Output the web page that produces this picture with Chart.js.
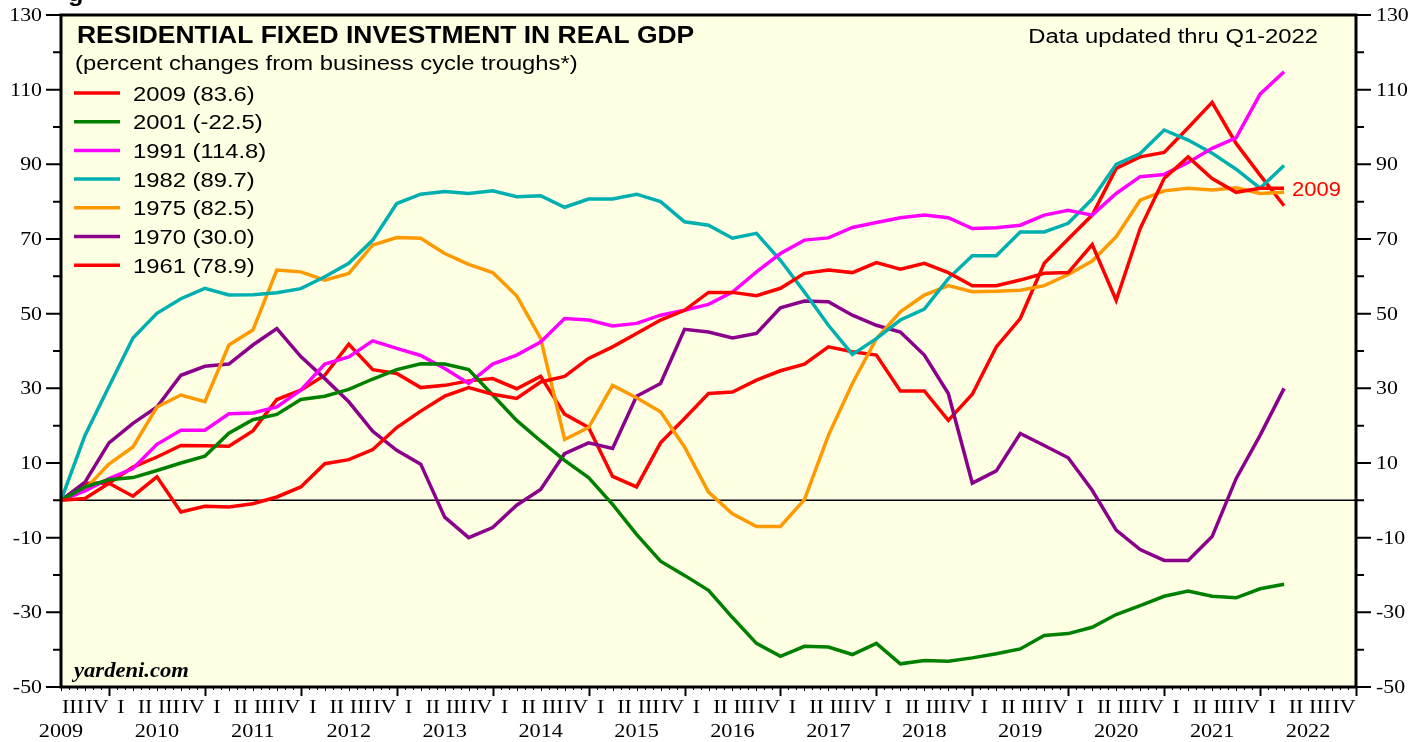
<!DOCTYPE html>
<html>
<head>
<meta charset="utf-8">
<title>Residential Fixed Investment in Real GDP</title>
<script src="https://cdn.jsdelivr.net/npm/chart.js@4.4.1/dist/chart.umd.min.js"></script>
<style>
  html, body { margin: 0; padding: 0; background: #fff; }
  #wrap { width: 1427px; height: 742px; position: relative; }
</style>
</head>
<body>
<div id="wrap"><canvas id="residentialChart"></canvas></div>
<script>
// business cycle troughs, in legend order
const cycles = ['2009', '2001', '1991', '1982', '1975', '1970', '1961'];
const lineColors = ['#ff0000', '#008000', '#ff00ff', '#00b0b0', '#ff9900', '#8b008b', '#ff0000'];

// percent change from trough, one value per quarter after the trough
const s2009 = [0, 0.5, 4.6, 1.1, 6.3, -3.1, -1.6, -1.8, -0.9, 0.9, 3.6, 9.8, 10.9, 13.6, 19.5, 23.9, 27.9, 30.2, 28.4, 27.3,
  31.7, 33.2, 38, 41.1, 44.7, 48.3, 50.9, 55.7, 55.7, 54.8, 56.8, 60.8, 61.7, 61, 63.7, 61.9, 63.5, 61, 57.5, 57.5,
  59, 60.8, 61, 68.5, 53.6, 72.8, 86.2, 92, 86.2, 82.5, 83.6, 83.6];
const s2001 = [0, 3.6, 5.5, 6.1, 8, 10, 11.8, 18, 21.6, 23, 27, 27.9, 29.7, 32.5, 35, 36.6, 36.5, 35, 28.2, 21.4,
  15.9, 10.7, 6.1, -1.1, -9.1, -16.3, -20.1, -24.1, -31.4, -38.3, -41.8, -39.1, -39.3, -41.3, -38.3, -43.8, -42.9, -43.1, -42.2, -41.1,
  -39.8, -36.2, -35.7, -34, -30.6, -28.2, -25.7, -24.3, -25.7, -26.1, -23.7, -22.5];
const s1991 = [0, 2.5, 5.8, 8.5, 15, 18.8, 18.8, 23.2, 23.4, 25, 29.5, 36.5, 38.4, 42.7, 40.7, 38.8, 35.3, 31.3, 36.5, 38.9,
  42.4, 48.7, 48.3, 46.7, 47.4, 49.6, 50.9, 52.5, 55.8, 61.2, 66.1, 69.7, 70.3, 73.1, 74.4, 75.7, 76.4, 75.7, 72.8, 73,
  73.7, 76.4, 77.7, 76.4, 82.2, 86.7, 87.3, 90.5, 94.3, 97.1, 108.8, 114.8];
const s1982 = [0, 17.4, 30.5, 43.5, 50.1, 54, 56.8, 55, 55.1, 55.6, 56.7, 59.9, 63.5, 69.7, 79.5, 82, 82.7, 82.2, 82.9, 81.3,
  81.6, 78.5, 80.7, 80.7, 82, 80, 74.6, 73.7, 70.2, 71.5, 64.3, 55.8, 46.9, 39.1, 43.3, 48.3, 51.2, 59.4, 65.5, 65.5,
  71.9, 71.9, 74.2, 80.7, 90, 92.9, 99.2, 96.5, 93, 88.7, 83.6, 89.7];
const s1975 = [0, 3, 9.7, 14.3, 25, 28.2, 26.4, 41.6, 45.6, 61.7, 61.2, 59, 60.8, 68.4, 70.4, 70.2, 66.1, 63.2, 61, 54.8,
  43.4, 16.3, 19.5, 30.8, 27.5, 23.7, 14.3, 2.2, -3.6, -7, -7, 0.2, 17.4, 31.3, 43.3, 50.5, 55, 57.5, 55.9, 56,
  56.3, 57.5, 60.5, 64.1, 70.6, 80.4, 82.9, 83.6, 83.1, 83.7, 82.2, 82.5];
const s1970 = [0, 4.9, 15.4, 20.6, 25, 33.5, 35.9, 36.5, 41.6, 46, 38.5, 32.6, 26.4, 18.5, 13.4, 9.7, -4.5, -10, -7.3, -1.3,
  2.9, 12.5, 15.4, 13.9, 27.9, 31.3, 45.8, 45.1, 43.5, 44.7, 51.6, 53.4, 53.2, 49.6, 46.9, 45.1, 38.9, 28.6, 4.6, 7.9,
  17.9, 14.7, 11.4, 2.7, -8, -13.2, -16.1, -16.1, -9.7, 5.8, 17.4, 30];
const s1961 = [0, 4.6, 4.6, 8.9, 11.6, 14.7, 14.6, 14.5, 18.6, 27, 29.5, 33.5, 41.8, 35, 34, 30.2, 30.8, 32, 32.6, 29.9,
  33.2, 23.1, 19.5, 6.4, 3.6, 15.4, 21.9, 28.6, 29, 32.2, 34.7, 36.5, 41.1, 39.8, 38.9, 29.3, 29.3, 21.4, 28.4, 41.1,
  48.7, 63.5, 70, 76.4, 88.9, 92, 93.2, 99.8, 106.6, 95.6, 87.1, 78.9];

// x axis: quarters from 2009 Q3 through 2022 Q4
const years = [2009, 2010, 2011, 2012, 2013, 2014, 2015, 2016, 2017, 2018, 2019, 2020, 2021, 2022];
const quarterNames = ['I', 'II', 'III', 'IV'];
const firstQuarter = 2; // 2009 starts with III
const yTicks = [-50, -30, -10, 10, 30, 50, 70, 90, 110, 130];

const seriesList = [s2009, s2001, s1991, s1982, s1975, s1970, s1961];
const totalQuarters = years.length * 4 - firstQuarter;

// 横に少し伸ばした文字を描く
function wideText(ctx, text, x, y, font, color, align, sx, baseline) {
    ctx.save();
    ctx.font = font;
    ctx.fillStyle = color;
    ctx.textBaseline = baseline || 'alphabetic';
    ctx.textAlign = 'left';
    const w = ctx.measureText(text).width * sx;
    let left = x;
    if (align === 'right') left = x - w;
    else if (align === 'center') left = x - w / 2;
    ctx.translate(left, y);
    ctx.scale(sx, 1);
    ctx.fillText(text, 0, 0);
    ctx.restore();
}

const serif = '19px "Liberation Serif"';

const framePlugin = {
    id: 'frame',
    beforeDraw(chart) {
        const { ctx, chartArea: a } = chart;
        ctx.save();
        ctx.fillStyle = '#ffffff';
        ctx.fillRect(0, 0, chart.width, chart.height);
        ctx.fillStyle = '#ffffe4';
        ctx.fillRect(a.left, a.top, a.right - a.left, a.bottom - a.top);
        // zero line
        const y0 = chart.scales.y.getPixelForValue(0);
        ctx.strokeStyle = '#000';
        ctx.lineWidth = 1.5;
        ctx.beginPath();
        ctx.moveTo(a.left, y0);
        ctx.lineTo(a.right, y0);
        ctx.stroke();
        ctx.restore();
    },
    afterDraw(chart) {
        const { ctx, chartArea: a } = chart;
        const xs = chart.scales.x;
        const ys = chart.scales.y;
        ctx.save();

        // border
        ctx.strokeStyle = '#000';
        ctx.lineWidth = 3;
        ctx.strokeRect(a.left, a.top, a.right - a.left, a.bottom - a.top);

        // y ticks both sides
        ctx.lineWidth = 2;
        for (let v = -50; v <= 130; v += 10) {
            const y = ys.getPixelForValue(v);
            const len = yTicks.includes(v) ? 15 : 8;
            ctx.beginPath();
            ctx.moveTo(a.left, y); ctx.lineTo(a.left - len, y);
            ctx.moveTo(a.right, y); ctx.lineTo(a.right + len, y);
            ctx.stroke();
        }
        yTicks.forEach(v => {
            const y = ys.getPixelForValue(v) + 1;
            wideText(ctx, String(v), a.left - 19, y, serif, '#000', 'right', 1.15, 'middle');
            wideText(ctx, String(v), a.right + 20, y, serif, '#000', 'left', 1.15, 'middle');
        });

        // x ticks: months, quarters, years
        for (let m = 0; m <= totalQuarters * 3; m++) {
            const x = Math.round(xs.getPixelForValue(m / 3)) + 0.5;
            let len = 3, w = 1;
            if (m % 3 === 0) {
                const q = m / 3;
                if ((q + firstQuarter) % 4 === 0) { len = 9; w = 2; }
                else len = 4;
            }
            ctx.lineWidth = w;
            ctx.beginPath();
            ctx.moveTo(x, a.bottom);
            ctx.lineTo(x, a.bottom + len);
            ctx.stroke();
        }
        for (let q = 0; q < totalQuarters; q++) {
            wideText(ctx, quarterNames[(q + firstQuarter) % 4], xs.getPixelForValue(q + 0.5), 708,
                serif, '#000', 'center', 1.15, 'middle');
        }
        years.forEach((yr, j) => {
            const mid = j * 4 - firstQuarter + 2;
            wideText(ctx, String(yr), xs.getPixelForValue(mid), 732, serif, '#000', 'center', 1.17, 'middle');
        });

        // titles
        wideText(ctx, 'RESIDENTIAL FIXED INVESTMENT IN REAL GDP', 77, 43, 'bold 23px "Liberation Sans"', '#000', 'left', 1.15);
        wideText(ctx, '(percent changes from business cycle troughs*)', 75, 70, '20px "Liberation Sans"', '#000', 'left', 1.19);
        wideText(ctx, 'Data updated thru Q1-2022', 1318, 43, '20px "Liberation Sans"', '#000', 'right', 1.19);
        wideText(ctx, 'yardeni.com', 74, 677, 'italic bold 20px "Liberation Serif"', '#000', 'left', 1.13);
        wideText(ctx, 'g', 68, 1, 'bold 22px "Liberation Sans"', '#000', 'left', 1.15);

        // legend
        chart.data.datasets.forEach((ds, i) => {
            const y = 93 + i * 28.7;
            ctx.strokeStyle = ds.borderColor;
            ctx.lineWidth = 3.5;
            ctx.beginPath();
            ctx.moveTo(74, y);
            ctx.lineTo(120, y);
            ctx.stroke();
            wideText(ctx, ds.label, 133, y + 7.5, '20px "Liberation Sans"', '#000', 'left', 1.19);
        });

        // end label for the current cycle
        const last = s2009.length - 1;
        wideText(ctx, cycles[0], xs.getPixelForValue(last) + 8, ys.getPixelForValue(s2009[last]) + 7.5,
            '20px "Liberation Sans"', lineColors[0], 'left', 1.1);

        ctx.restore();
    }
};

const ctx = document.getElementById('residentialChart').getContext('2d');
new Chart(ctx, {
    type: 'line',
    data: {
        datasets: seriesList.map((s, i) => ({
            label: cycles[i] + ' (' + s[s.length - 1].toFixed(1) + ')',
            data: s.map((v, q) => ({ x: q, y: v })),
            borderColor: lineColors[i],
            backgroundColor: lineColors[i],
            borderWidth: 3.5,
            pointRadius: 0,
            tension: 0,
            fill: false
        }))
    },
    options: {
        responsive: true,
        maintainAspectRatio: false,
        animation: false,
        devicePixelRatio: 1,
        layout: { padding: { left: 61, right: 71, top: 15, bottom: 55 } },
        plugins: { legend: { display: false }, tooltip: { enabled: false } },
        scales: {
            x: { type: 'linear', min: 0, max: totalQuarters, display: false },
            y: { min: -50, max: 130, display: false }
        }
    },
    plugins: [framePlugin]
});
</script>
</body>
</html>
